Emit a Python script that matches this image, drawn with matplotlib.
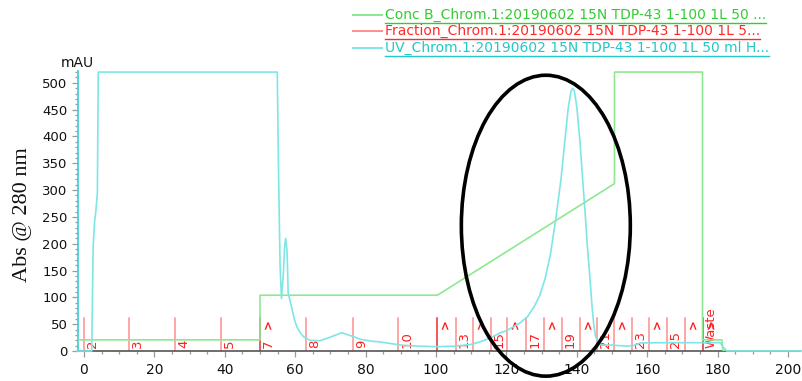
import matplotlib
matplotlib.use("Agg")
import matplotlib.pyplot as plt
from matplotlib.patches import Ellipse
from matplotlib.lines import Line2D
from matplotlib.ticker import MultipleLocator

W, H, DPI = 803, 381, 100

# UV absorbance trace (mAU vs. ml)
uv_time = [-2, 2.2, 2.6, 3.0, 3.4, 3.8, 4.06, 54.9, 55.3, 55.7, 56.1, 56.6, 57.0, 57.3,
           57.7, 58.0, 58.6, 59.2, 59.8, 60.5, 61.4, 62.5, 64.2, 67.0, 70.0, 73.2,
           76.0, 78.4, 82.0, 84.0, 88.0, 90.0, 95.0, 100.2, 105.0, 109.7, 112.5,
           115.3, 118.0, 120.0, 122.0, 124.0, 126.0, 128.0, 129.5, 131.0, 132.5,
           134.0, 135.5, 136.5, 137.5, 138.3, 138.8, 139.3, 140.0, 140.9,
           141.6, 142.3, 143.0, 143.8, 144.3, 144.8, 145.3, 146.1, 147.0, 150.0,
           154.0, 156.0, 158.0, 165.0, 175.0, 180.7, 181.5, 182.6, 205.0]
uv_mau = [0, 0, 195, 240, 263, 294, 520, 520, 320, 160, 98, 140, 195, 210,
          185, 108, 92, 75, 58, 45, 34, 26, 20, 19, 26, 34,
          28, 22, 18, 17, 13, 11, 9, 8, 9, 12, 17,
          24, 33, 38, 45, 53, 64, 84, 104, 135, 180,
          245, 320, 385, 450, 483, 490, 485, 455, 390,
          325, 263, 195, 130, 85, 50, 28, 15, 11, 11,
          9, 10, 15, 15.5, 15.5, 15.5, 8, 0, 0]

# Conc B programme, drawn on the mAU scale
concb_time = [-2, 50, 50, 100.4, 150.7, 150.7, 175.7, 175.7, 181.2, 181.5, 205]
concb_mau = [20.8, 20.8, 104, 104, 312, 520, 520, 20.8, 20.8, 0, 0]

# Fraction marks
frac_time = [0, 12.8, 25.9, 38.9, 50, 63.2, 76.3, 89.3, 100.3, 105.6, 110.5,
             115.6, 120.3, 125.6, 130.7, 135.7, 140.9, 145.7, 150.6, 155.7,
             160.5, 165.6, 170.7, 175.8]
frac_label = ["2", "3", "4", "5", "7", "8", "9", "10", "", "13", "", "15", "",
              "17", "", "19", "", "21", "", "23", "", "25", "", "Waste"]
frac_arrow = [50, 100.3, 110.5, 120.3, 130.7, 140.9, 150.6, 160.5, 170.7, 175.8]
block_marks = [50, 100.3, 175.8]
frac_height = 61

legend_names = [
    "Conc B_Chrom.1:20190602 15N TDP-43 1-100 1L 50 ...",
    "Fraction_Chrom.1:20190602 15N TDP-43 1-100 1L 5...",
    "UV_Chrom.1:20190602 15N TDP-43 1-100 1L 50 ml H...",
]

# Highlighted region (centre x, centre y, width, height in data units)
ring = (131.2, 233.6, 48.0, 561.0)

plt.rcParams["font.family"] = ["DejaVu Sans"]

green_line = "#8fe88f"
red_line = "#ff8e8e"
red_dark = "#ee2a2a"
cyan_line = "#7fe6e6"

fig = plt.figure(figsize=(W / DPI, H / DPI), dpi=DPI)
ax = fig.add_axes([78 / W, 1 - 351 / H, (800 - 78) / W, (351 - 71) / H])
ax.set_xlim(-1.7, 203.4)
ax.set_ylim(0, 522)

for s in ("top", "right"):
    ax.spines[s].set_visible(False)
ax.spines["left"].set_color("#40d4d4")
ax.spines["left"].set_linewidth(1.3)
ax.spines["bottom"].set_color("#555555")
ax.spines["bottom"].set_linewidth(1.2)

ax.xaxis.set_major_locator(MultipleLocator(20))
ax.xaxis.set_minor_locator(MultipleLocator(5))
ax.yaxis.set_major_locator(MultipleLocator(50))
ax.yaxis.set_minor_locator(MultipleLocator(10))
ax.tick_params(which="both", direction="out", color="#9a9a9a", width=0.9)
ax.tick_params(which="major", length=4.5, labelsize=9.5, labelcolor="#111111", pad=3)
ax.tick_params(which="minor", length=2.5)
ax.tick_params(axis="x", labelsize=10, pad=4)

# fraction lines and their labels
for t, lab in zip(frac_time, frac_label):
    col = red_dark if t in block_marks else red_line
    ax.plot([t, t], [0, frac_height], color=col, lw=1.1, zorder=2)
    if lab:
        ax.annotate(lab, xy=(t, 0), xytext=(1.5, 2), textcoords="offset points",
                    rotation=90, ha="left", va="bottom", color="#ff1f1f",
                    fontsize=9.5, zorder=3)
for t in frac_arrow:
    ax.annotate(">", xy=(t, frac_height), xytext=(1.5, -4), textcoords="offset points",
                rotation=90, ha="left", va="center", color="#ff1f1f",
                fontsize=8.5, fontweight="bold", zorder=3)

ax.plot(concb_time, concb_mau, color=green_line, lw=1.2, zorder=4)
ax.plot(uv_time, uv_mau, color=cyan_line, lw=1.2, zorder=5, clip_on=False)

ell = Ellipse((ring[0], ring[1]), ring[2], ring[3], fill=False, edgecolor="black",
              lw=2.6, zorder=6, clip_on=False)
ax.add_patch(ell)

fig.text(61 / W, 1 - 63 / H, "mAU", fontsize=10, color="#111111", va="center", ha="left")
fig.text(23 / W, 1 - 215 / H, "Abs @ 280 nm", rotation=90, ha="center", va="center",
         fontsize=16, family=["Liberation Serif"], color="#111111")

# legend
leg_line_cols = [green_line, red_line, cyan_line]
leg_text_cols = ["#33cc33", "#ff2a2a", "#22c8c8"]
rows_y = [15, 31, 48]
texts = []
for name, lc, tc, yy in zip(legend_names, leg_line_cols, leg_text_cols, rows_y):
    fig.add_artist(Line2D([353 / W, 382 / W], [1 - yy / H, 1 - yy / H],
                          color=lc, lw=1.4))
    texts.append(fig.text(385 / W, 1 - yy / H, name, color=tc, fontsize=10,
                          va="center", ha="left"))

fig.canvas.draw()
for t, tc in zip(texts, leg_text_cols):
    bb = t.get_window_extent()
    yline = (bb.y0 - 0.5) / H
    fig.add_artist(Line2D([bb.x0 / W, bb.x1 / W], [yline, yline], color=tc, lw=1.0))

fig.savefig("out.png", dpi=DPI)
